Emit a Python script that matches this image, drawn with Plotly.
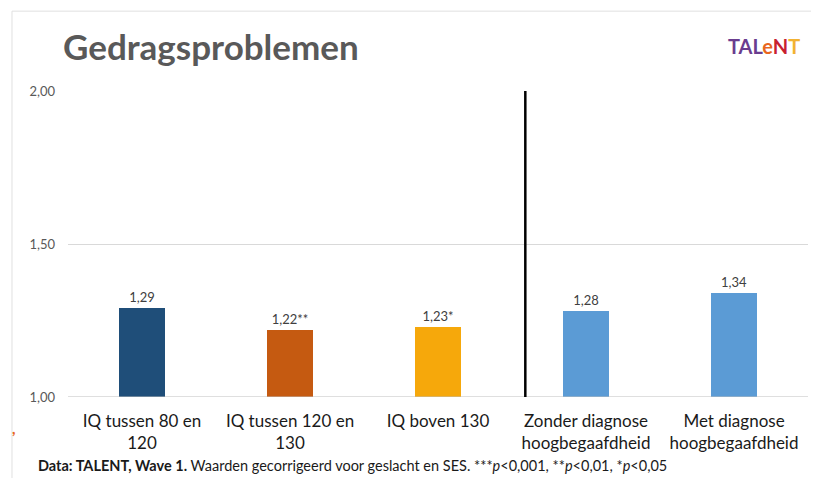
import plotly.graph_objects as go

categories = ["IQ tussen 80 en<br>120", "IQ tussen 120 en<br>130", "IQ boven 130",
              "Zonder diagnose<br>hoogbegaafdheid", "Met diagnose<br>hoogbegaafdheid"]
values = [1.29, 1.22, 1.23, 1.28, 1.34]
value_labels = ["1,29", "1,22**", "1,23*", "1,28", "1,34"]
bar_colors = ["#1F4E79", "#C55A11", "#F6A80B", "#5B9BD5", "#5B9BD5"]
tick_vals = [1.0, 1.5, 2.0]
tick_text = ["1,00", "1,50", "2,00"]

fig = go.Figure()
fig.add_trace(go.Bar(
    x=list(range(len(categories))), y=[v - 1.0 for v in values], base=1.0,
    marker=dict(color=bar_colors, line=dict(width=0)),
    width=0.31,
    text=value_labels, textposition="outside",
    textfont=dict(family="Lato, sans-serif", size=13, color="#404040"),
    cliponaxis=False, hoverinfo="skip",
))

# page body adds an 8px margin, so the figure is 8px smaller
fig.update_layout(
    width=811, height=470,
    margin=dict(l=60, r=11, t=83, b=81),
    paper_bgcolor="white", plot_bgcolor="white",
    showlegend=False, bargap=0,
    xaxis=dict(tickvals=list(range(len(categories))), ticktext=categories,
               range=[-0.5, 4.5], showgrid=False, zeroline=False,
               showline=False, ticks="", ticklabelstandoff=12,
               tickfont=dict(family="Lato, sans-serif", size=17, color="#1a1a1a")),
    yaxis=dict(range=[1.0, 2.0], tickvals=tick_vals, ticktext=tick_text,
               showgrid=True, gridcolor="#D9D9D9", gridwidth=1,
               zeroline=False, showline=False, ticks="",
               ticklabelstandoff=12,
               tickfont=dict(family="Lato, sans-serif", size=13, color="#595959")),
)

# axis baseline at 1,00
fig.add_shape(type="line", xref="paper", yref="y", x0=0, x1=1, y0=1.0, y1=1.0,
              line=dict(color="#BFBFBF", width=1))
# vertical separator
fig.add_shape(type="line", xref="x", yref="y", x0=2.59, x1=2.59, y0=1.0, y1=2.0,
              line=dict(color="black", width=2.5))

# slide frame lines
fig.add_shape(type="line", xref="paper", yref="paper", x0=-0.0757, x1=1.02,
              y0=1.261, y1=1.261, line=dict(color="#E0E0E0", width=1))
fig.add_shape(type="line", xref="paper", yref="paper", x0=-0.0757, x1=-0.0757,
              y0=1.261, y1=-0.3, line=dict(color="#E0E0E0", width=1))

# title
fig.add_annotation(text="<b>Gedragsproblemen</b>", xref="paper", yref="paper",
                   x=-0.009, y=1.147, xanchor="left", yanchor="middle", showarrow=False,
                   font=dict(family="Lato, sans-serif", size=35, color="#595959"))

# logo
fig.add_annotation(
    text="<b><span style='color:#6A3D8F'>TAL</span><span style='color:#E8661E'>e</span>"
         "<span style='color:#C8202F'>N</span><span style='color:#F2B232'>T</span></b>",
    xref="paper", yref="paper", x=0.992, y=1.147, xanchor="right", yanchor="middle",
    showarrow=False, font=dict(family="Lato, sans-serif", size=20))

# footnote
fig.add_annotation(
    text="<b>Data: TALENT, Wave 1.</b> Waarden gecorrigeerd voor geslacht en SES. "
         "***<i>p</i>&lt;0,001, **<i>p</i>&lt;0,01, *<i>p</i>&lt;0,05",
    xref="paper", yref="paper", x=-0.043, y=-0.225, xanchor="left", yanchor="middle",
    showarrow=False, font=dict(family="Lato, sans-serif", size=14.5, color="#1a1a1a"))

# stray comma at left edge
fig.add_annotation(text="<b>,</b>", xref="paper", yref="paper", x=-0.078, y=-0.1,
                   xanchor="left", yanchor="middle", showarrow=False,
                   font=dict(family="Lato, sans-serif", size=15, color="#E8661E"))

fig.write_html("out.html")
